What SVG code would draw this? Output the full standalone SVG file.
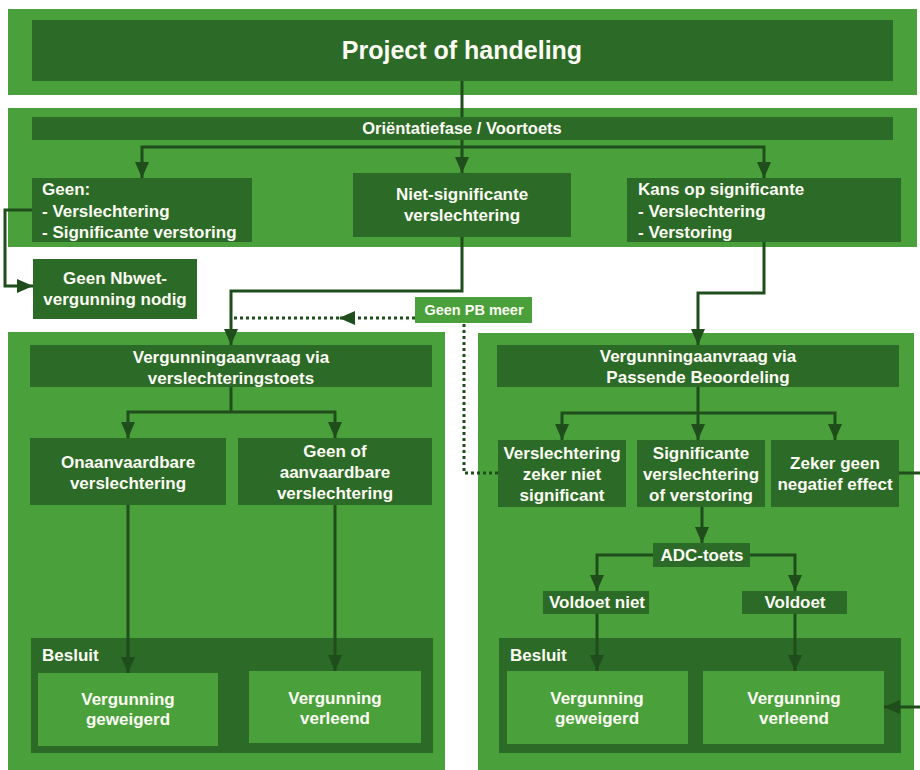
<svg xmlns="http://www.w3.org/2000/svg" width="920" height="770" viewBox="0 0 920 770">
<defs>
<style>
.lg{fill:#4aa13b}
.dg{fill:#2c6a27}
.t{font-family:"Liberation Sans",Arial,sans-serif;font-weight:bold;font-size:17px;fill:#fbfbf3}
.c{text-anchor:middle}
.ln{fill:none;stroke:#1f4d1b;stroke-width:3}
.dt{fill:none;stroke:#1f4d1b;stroke-width:3;stroke-dasharray:3 3}
</style>
<marker id="ah" viewBox="0 0 16 14" refX="16" refY="7" markerWidth="16" markerHeight="14" orient="auto" markerUnits="userSpaceOnUse">
<path d="M0,0 L16,7 L0,14 z" fill="#1f4d1b"/>
</marker>
</defs>
<rect width="920" height="770" fill="#ffffff"/>

<g id="panels">
<rect class="lg" x="8" y="9" width="909" height="86"/>
<rect class="lg" x="8" y="108" width="909" height="139"/>
<rect class="lg" x="8" y="332" width="437" height="438"/>
<rect class="lg" x="478" y="333" width="436" height="437"/>
</g>

<g id="project">
<rect class="dg" x="32" y="20" width="861" height="61"/>
<text class="t c" x="462" y="59" style="font-size:25px">Project of handeling</text>
</g>

<g id="orientatie">
<rect class="dg" x="32" y="117" width="861" height="23"/>
<text class="t c" x="462" y="134" style="font-size:16.5px">Oriëntatiefase / Voortoets</text>
</g>

<g id="geen">
<rect class="dg" x="32" y="178" width="220" height="64"/>
<text class="t" x="42" y="195">Geen:</text>
<text class="t" x="42" y="217">- Verslechtering</text>
<text class="t" x="42" y="238">- Significante verstoring</text>
</g>

<g id="nietsig">
<rect class="dg" x="353" y="173" width="218" height="64"/>
<text class="t c" x="462" y="200">Niet-significante</text>
<text class="t c" x="462" y="221">verslechtering</text>
</g>

<g id="kans">
<rect class="dg" x="627" y="178" width="274" height="64"/>
<text class="t" x="638" y="195">Kans op significante</text>
<text class="t" x="638" y="217">- Verslechtering</text>
<text class="t" x="638" y="238">- Verstoring</text>
</g>

<g id="geennbwet">
<rect class="dg" x="33" y="259" width="164" height="60"/>
<text class="t c" x="115" y="284">Geen Nbwet-</text>
<text class="t c" x="115" y="305">vergunning nodig</text>
</g>

<g id="geenpb">
<rect class="lg" x="415" y="297" width="117" height="26"/>
<text class="t c" x="474" y="315" style="font-size:14.5px">Geen PB meer</text>
</g>

<g id="va-left">
<rect class="dg" x="30" y="345" width="402" height="42"/>
<text class="t c" x="231" y="363">Vergunningaanvraag via</text>
<text class="t c" x="231" y="384">verslechteringstoets</text>
</g>

<g id="onaanv">
<rect class="dg" x="30" y="438" width="196" height="67"/>
<text class="t c" x="128" y="468">Onaanvaardbare</text>
<text class="t c" x="128" y="489">verslechtering</text>
</g>

<g id="geenof">
<rect class="dg" x="238" y="438" width="194" height="67"/>
<text class="t c" x="335" y="457">Geen of</text>
<text class="t c" x="335" y="478">aanvaardbare</text>
<text class="t c" x="335" y="499">verslechtering</text>
</g>

<g id="besluit-left">
<rect class="dg" x="31" y="638" width="402" height="115"/>
<text class="t" x="42" y="661">Besluit</text>
</g>
<g id="geweigerd-left">
<rect class="lg" x="38" y="673" width="180" height="73"/>
<text class="t c" x="128" y="705">Vergunning</text>
<text class="t c" x="128" y="725">geweigerd</text>
</g>
<g id="verleend-left">
<rect class="lg" x="249" y="671" width="172" height="72"/>
<text class="t c" x="335" y="704">Vergunning</text>
<text class="t c" x="335" y="724">verleend</text>
</g>

<g id="va-right">
<rect class="dg" x="497" y="345" width="402" height="42"/>
<text class="t c" x="698" y="362">Vergunningaanvraag via</text>
<text class="t c" x="698" y="383">Passende Beoordeling</text>
</g>

<g id="zekerniet">
<rect class="dg" x="498" y="440" width="128" height="67"/>
<text class="t c" x="562" y="459">Verslechtering</text>
<text class="t c" x="562" y="480">zeker niet</text>
<text class="t c" x="562" y="501">significant</text>
</g>

<g id="sigverst">
<rect class="dg" x="637" y="440" width="128" height="67"/>
<text class="t c" x="701" y="459">Significante</text>
<text class="t c" x="701" y="480">verslechtering</text>
<text class="t c" x="701" y="501">of verstoring</text>
</g>

<g id="zekergeen">
<rect class="dg" x="771" y="440" width="128" height="67"/>
<text class="t c" x="835" y="469">Zeker geen</text>
<text class="t c" x="835" y="490">negatief effect</text>
</g>

<g id="adc">
<rect class="dg" x="653" y="543" width="97" height="24"/>
<text class="t c" x="702" y="561">ADC-toets</text>
</g>
<g id="voldoetniet">
<rect class="dg" x="543" y="591" width="106" height="23"/>
<text class="t c" x="597" y="608">Voldoet niet</text>
</g>
<g id="voldoet">
<rect class="dg" x="742" y="591" width="105" height="23"/>
<text class="t c" x="795" y="608">Voldoet</text>
</g>

<g id="besluit-right">
<rect class="dg" x="499" y="638" width="402" height="115"/>
<text class="t" x="510" y="661">Besluit</text>
</g>
<g id="geweigerd-right">
<rect class="lg" x="507" y="671" width="181" height="73"/>
<text class="t c" x="597" y="704">Vergunning</text>
<text class="t c" x="597" y="724">geweigerd</text>
</g>
<g id="verleend-right">
<rect class="lg" x="703" y="671" width="181" height="73"/>
<text class="t c" x="794" y="704">Vergunning</text>
<text class="t c" x="794" y="724">verleend</text>
</g>

<g id="connectors">
<path class="ln" d="M462,81 V117"/>
<path class="ln" d="M462,140 V147"/>
<path class="ln" d="M462,147 H142 V178" marker-end="url(#ah)"/>
<path class="ln" d="M462,147 V173" marker-end="url(#ah)"/>
<path class="ln" d="M462,147 H764 V178" marker-end="url(#ah)"/>
<path class="ln" d="M32,210 H5 V286 H33" marker-end="url(#ah)"/>
<path class="ln" d="M462,237 V291 H231 V345" marker-end="url(#ah)"/>
<path class="ln" d="M764,242 V293 H698 V345" marker-end="url(#ah)"/>
<path class="dt" d="M498,473 H464 V323"/>
<path class="dt" d="M415,318 H339" marker-end="url(#ah)"/>
<path class="dt" d="M339,318 H233"/>
<path class="ln" d="M231,387 V412"/>
<path class="ln" d="M231,412 H128 V438" marker-end="url(#ah)"/>
<path class="ln" d="M231,412 H335 V438" marker-end="url(#ah)"/>
<path class="ln" d="M128,505 V673" marker-end="url(#ah)"/>
<path class="ln" d="M335,505 V671" marker-end="url(#ah)"/>
<path class="ln" d="M698,387 V413"/>
<path class="ln" d="M698,413 H562 V440" marker-end="url(#ah)"/>
<path class="ln" d="M698,413 V440" marker-end="url(#ah)"/>
<path class="ln" d="M698,413 H835 V440" marker-end="url(#ah)"/>
<path class="ln" d="M702,507 V543" marker-end="url(#ah)"/>
<path class="ln" d="M653,555 H597 V591" marker-end="url(#ah)"/>
<path class="ln" d="M750,555 H795 V591" marker-end="url(#ah)"/>
<path class="ln" d="M597,614 V671" marker-end="url(#ah)"/>
<path class="ln" d="M795,614 V671" marker-end="url(#ah)"/>
<path class="ln" d="M899,473 H925 V707 H884" marker-end="url(#ah)"/>
</g>
</svg>
